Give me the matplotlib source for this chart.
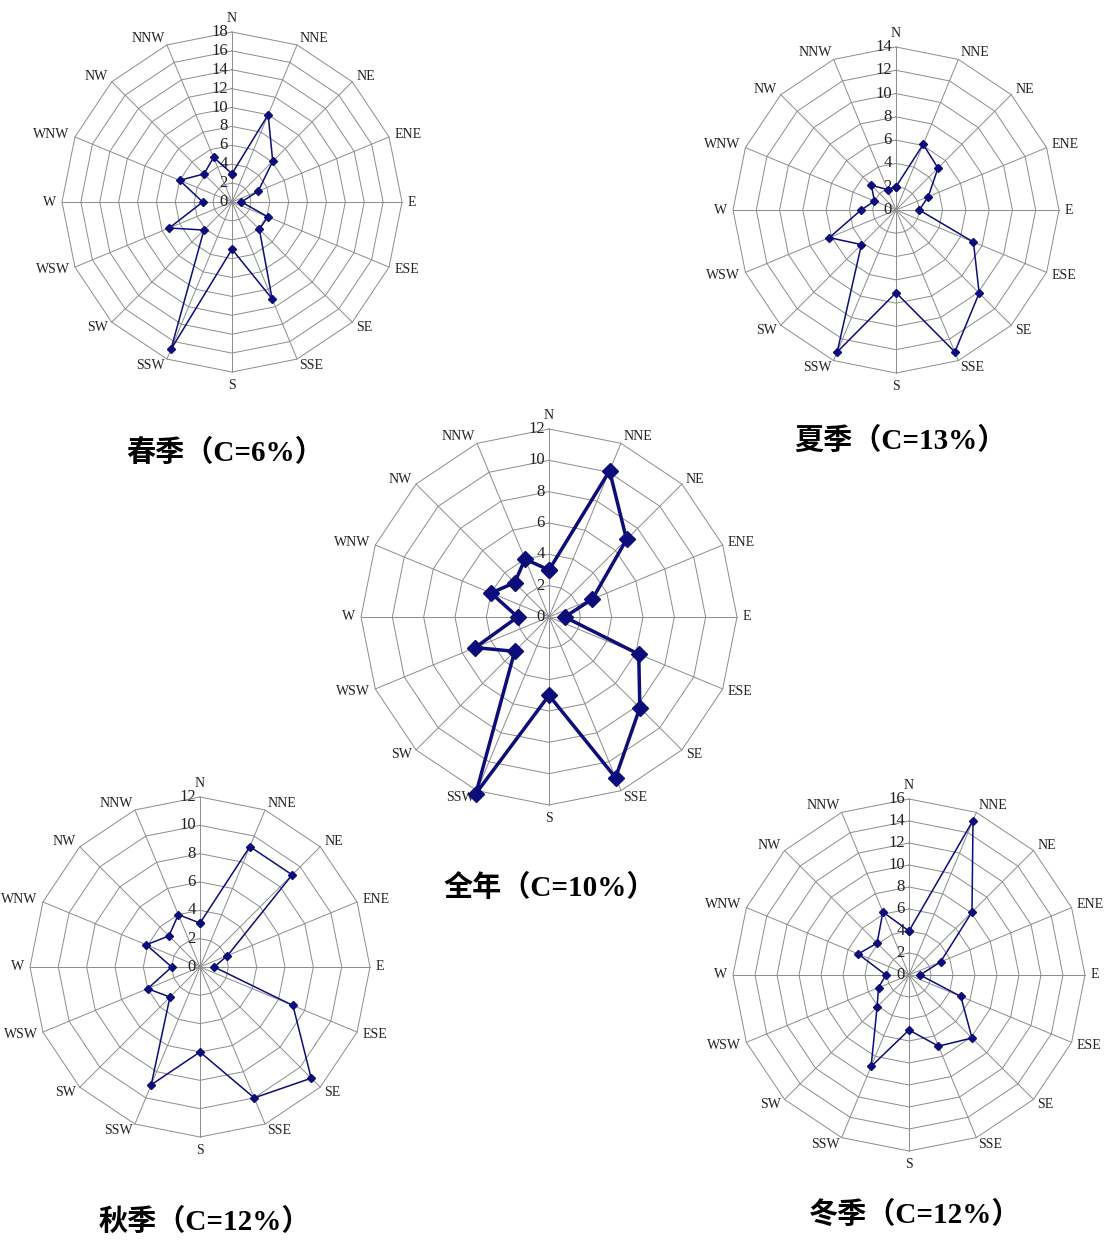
import numpy as np
import matplotlib.pyplot as plt

# wind directions, clockwise from N
dirs = ['N', 'NNE', 'NE', 'ENE', 'E', 'ESE', 'SE', 'SSE',
        'S', 'SSW', 'SW', 'WSW', 'W', 'WNW', 'NW', 'NNW']

# wind frequency (%) per direction
spring = [3.0, 10.0, 6.1, 3.0, 1.0, 4.1, 4.1, 11.1, 5.0, 16.9, 4.2, 7.2, 3.1, 6.0, 4.2, 5.1]
summer = [2.0, 6.1, 5.1, 3.0, 2.0, 7.2, 10.1, 13.2, 7.1, 13.2, 4.2, 6.2, 3.0, 2.0, 3.0, 1.9]
annual = [3.0, 10.1, 7.0, 3.0, 1.0, 6.2, 8.2, 11.1, 5.0, 12.2, 3.1, 5.1, 2.0, 4.0, 3.1, 4.0]
autumn = [3.1, 9.2, 9.2, 2.1, 1.0, 7.1, 11.1, 10.0, 6.0, 9.0, 3.0, 4.0, 2.0, 4.1, 3.1, 4.0]
winter = [4.0, 15.2, 8.1, 3.1, 1.0, 5.1, 8.1, 7.0, 5.0, 9.0, 4.1, 3.0, 2.1, 5.0, 4.1, 6.2]

# radial maxima of each chart
rmax = {'spring': 18, 'summer': 14, 'annual': 12, 'autumn': 12, 'winter': 16}
titles = {'spring': '春季（C=6%）', 'summer': '夏季（C=13%）', 'annual': '全年（C=10%）',
          'autumn': '秋季（C=12%）', 'winter': '冬季（C=12%）'}

W, H = 1118, 1243
fig = plt.figure(figsize=(W / 100, H / 100), dpi=100)

# (center x, center y, radius) in pixels, and title position
layout = {
    'spring': (232, 202, 170, 225, 453),
    'summer': (896, 210, 163, 900, 441),
    'annual': (549, 617, 188, 550, 888),
    'autumn': (200, 967, 170, 205, 1222),
    'winter': (909, 975, 176, 915, 1215),
}
data = {'spring': spring, 'summer': summer, 'annual': annual,
        'autumn': autumn, 'winter': winter}

theta = np.arange(16) * 2 * np.pi / 16
theta_c = np.append(theta, theta[0])
navy = '#0c0c7a'
grid_c = '#8c8c8c'

for key in ['spring', 'summer', 'annual', 'autumn', 'winter']:
    cx, cy, R, tx, ty = layout[key]
    ax = fig.add_axes([(cx - R) / W, (H - cy - R) / H, 2 * R / W, 2 * R / H],
                      projection='polar')
    ax.set_theta_zero_location('N')
    ax.set_theta_direction(-1)
    rm = rmax[key]
    ax.set_ylim(0, rm)
    ax.grid(False)
    ax.spines['polar'].set_visible(False)
    ax.set_xticks([])
    ax.set_yticks([])
    ax.patch.set_alpha(0)

    # polygon rings and spokes
    for r in range(2, rm + 1, 2):
        ax.plot(theta_c, [r] * 17, color=grid_c, lw=0.7, zorder=1)
    for t in theta:
        ax.plot([t, t], [0, rm], color=grid_c, lw=0.7, zorder=1)

    # radial tick labels along N spoke
    for r in range(0, rm + 1, 2):
        ax.annotate(str(r), (0, r), xytext=(-3, 0), textcoords='offset points',
                    ha='right', va='center', fontsize=12,
                    family='Liberation Serif', color='#222222')

    # direction labels, Excel style: next to the outer vertex
    for t, d in zip(theta, dirs):
        s, c = np.sin(t), np.cos(t)
        if s > 0.1:
            ha = 'left'
        elif s < -0.1:
            ha = 'right'
        else:
            ha = 'center'
        if abs(s) < 0.1:
            va = 'bottom' if c > 0 else 'top'
        else:
            va = 'center'
        ax.annotate(d, (t, rm), xytext=(4 * s, 5 * c), textcoords='offset points',
                    ha=ha, va=va, fontsize=10,
                    family='Liberation Serif', color='#222222')

    vals = data[key] + [data[key][0]]
    if key == 'annual':
        ax.plot(theta_c, vals, color=navy, lw=2.5, marker='D', ms=8.5, zorder=3)
    else:
        ax.plot(theta_c, vals, color=navy, lw=1.1, marker='D', ms=4, zorder=3)
    for ln in ax.lines:
        ln.set_clip_on(False)

    fig.text(tx / W, 1 - ty / H, titles[key], ha='center', va='center',
             fontsize=21, fontweight='bold',
             family=['Liberation Serif', 'Noto Sans CJK SC'])

fig.savefig('out.png', dpi=100)
